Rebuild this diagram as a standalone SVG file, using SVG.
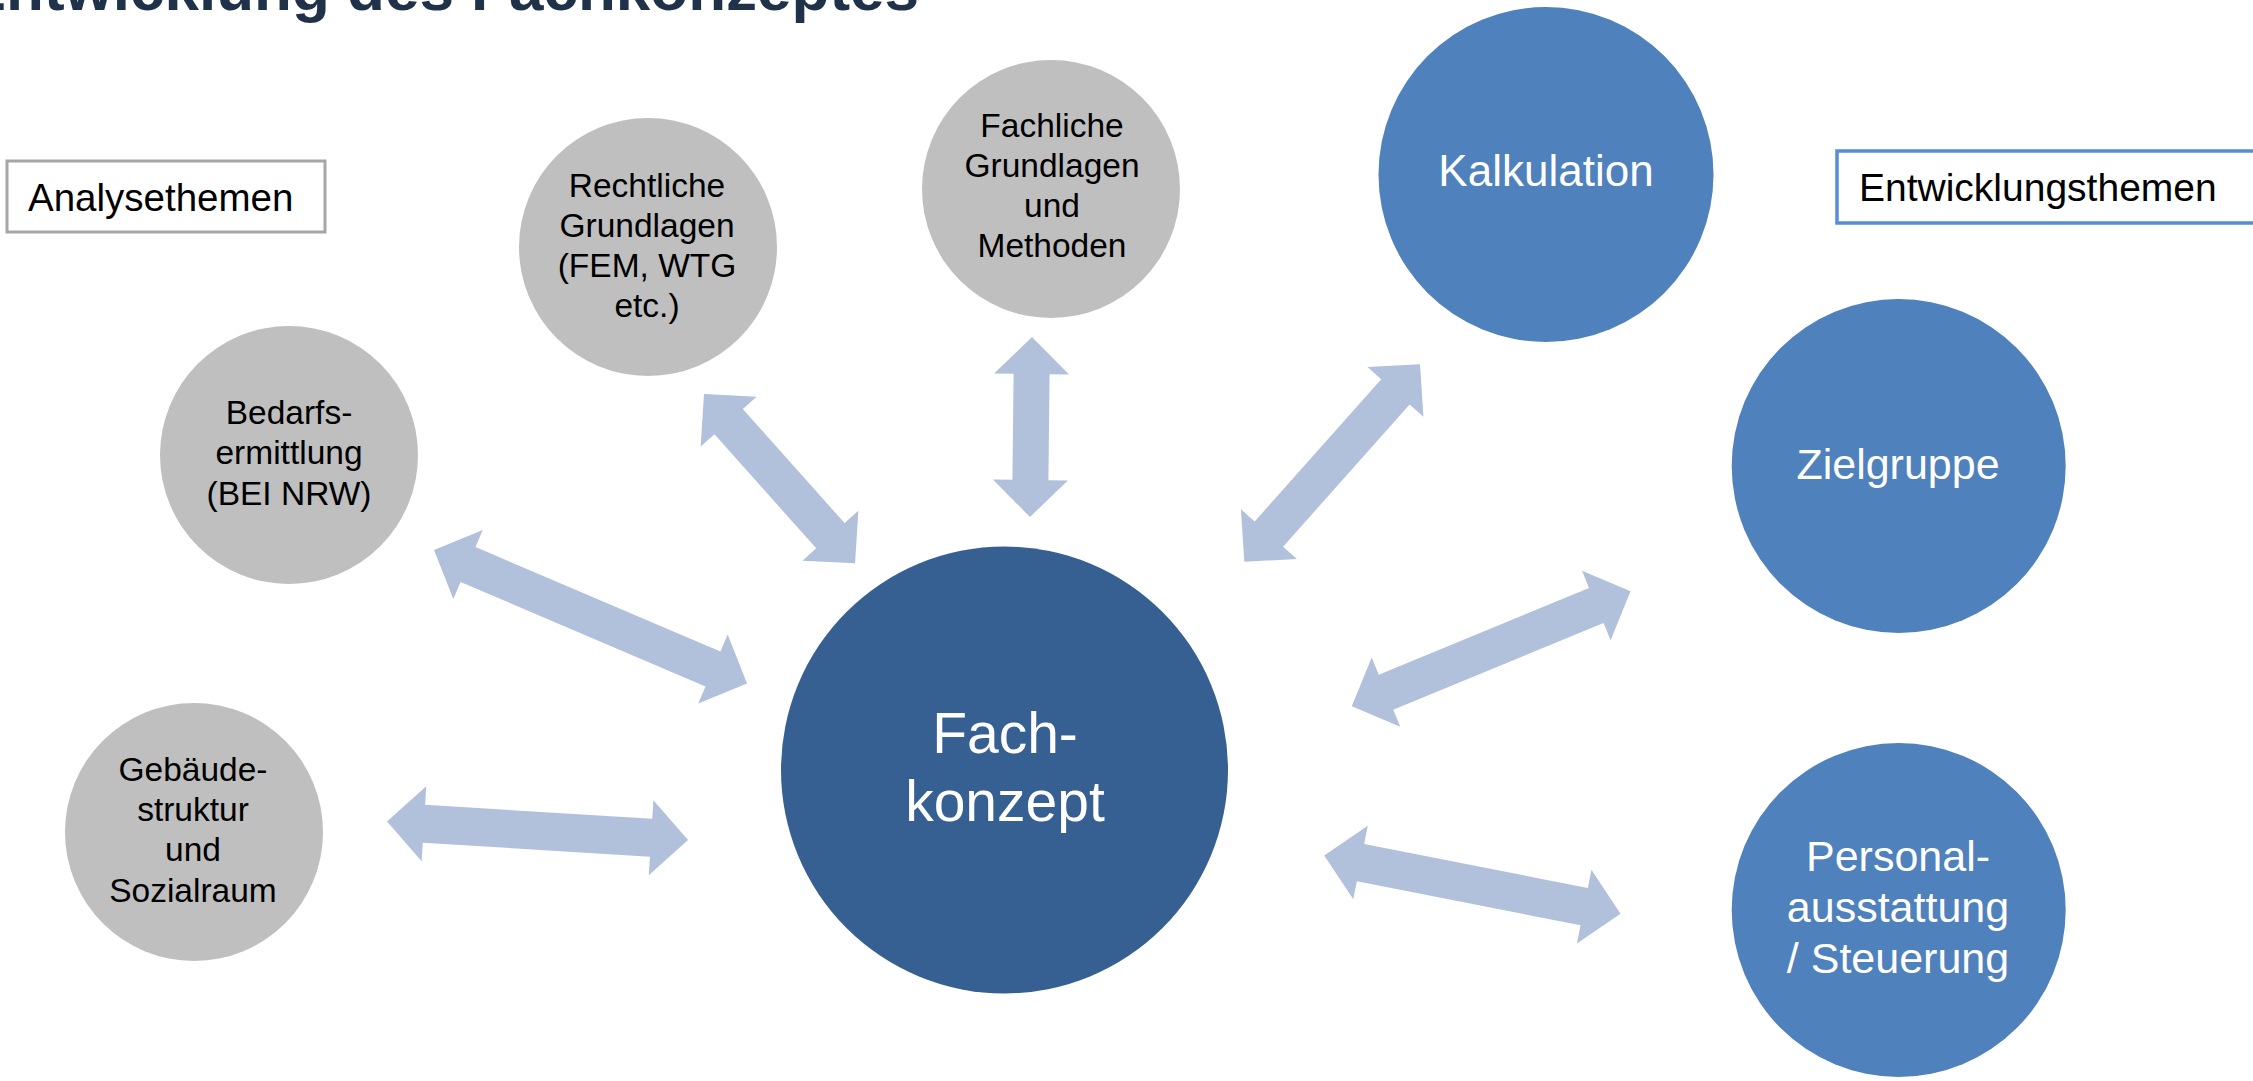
<svg xmlns="http://www.w3.org/2000/svg" width="2253" height="1081" viewBox="0 0 2253 1081">
<style>
text{font-family:"Liberation Sans",Arial,sans-serif;text-anchor:middle}
.gray{fill:#BFBFBF}
.blue{fill:#4F81BD}
.center{fill:#376092}
.arrow{fill:#B1C1DC}
.gt{font-size:33.5px;fill:#000}
.bt{font-size:43px;fill:#fff}
.label{font-size:39px;fill:#000;text-anchor:start}
</style>
<rect width="2253" height="1081" fill="#fff"/>
<text x="919" y="10" style="font-size:62px;font-weight:bold;fill:#1F3249;text-anchor:end">Entwicklung des Fachkonzeptes</text>

<g id="label-analyse">
<rect x="7" y="161" width="318" height="71" fill="#fff" stroke="#A6A6A6" stroke-width="3"/>
<text class="label" x="28" y="211" style="font-size:38.5px">Analysethemen</text>
</g>
<g id="label-entwicklung">
<rect x="1837" y="151" width="430" height="72" fill="#fff" stroke="#558ED5" stroke-width="3.5"/>
<text class="label" x="1859" y="201">Entwicklungsthemen</text>
</g>

<g id="connectors">
<polygon class="arrow" transform="translate(387,821.5) rotate(3.52)" points="0,0 37,-37.5 37,-19 264.6,-19 264.6,-37.5 301.6,0 264.6,37.5 264.6,19 37,19 37,37.5"/>
<polygon class="arrow" transform="translate(434,550) rotate(23.1)" points="0,0 37,-37.5 37,-19 303.3,-19 303.3,-37.5 340.3,0 303.3,37.5 303.3,19 37,19 37,37.5"/>
<polygon class="arrow" transform="translate(704,394) rotate(48.27)" points="0,0 37,-37.5 37,-19 189.9,-19 189.9,-37.5 226.9,0 189.9,37.5 189.9,19 37,19 37,37.5"/>
<polygon class="arrow" transform="translate(1032,337) rotate(90.64)" points="0,0 37,-37.5 37,-18 143,-18 143,-37.5 180,0 143,37.5 143,18 37,18 37,37.5"/>
<polygon class="arrow" transform="translate(1244.3,561.7) rotate(-48.33)" points="0,0 37,-37.5 37,-19 227.3,-19 227.3,-37.5 264.3,0 227.3,37.5 227.3,19 37,19 37,37.5"/>
<polygon class="arrow" transform="translate(1351.8,706.3) rotate(-22.41)" points="0,0 37,-37.5 37,-19 264.5,-19 264.5,-37.5 301.5,0 264.5,37.5 264.5,19 37,19 37,37.5"/>
<polygon class="arrow" transform="translate(1324.2,855.4) rotate(11.15)" points="0,0 37,-37.5 37,-19 265,-19 265,-37.5 302,0 265,37.5 265,19 37,19 37,37.5"/>
</g>

<g id="node-fachkonzept">
<circle class="center" cx="1004.5" cy="770" r="223.5"/>
<text x="1005" y="753" style="font-size:57px;fill:#fff">Fach-</text>
<text x="1005" y="821" style="font-size:57px;fill:#fff">konzept</text>
</g>

<g id="node-rechtliche">
<circle class="gray" cx="648" cy="247" r="129"/>
<text class="gt" x="647" y="197">Rechtliche</text>
<text class="gt" x="647" y="237">Grundlagen</text>
<text class="gt" x="647" y="277">(FEM, WTG</text>
<text class="gt" x="647" y="317">etc.)</text>
</g>

<g id="node-fachliche">
<circle class="gray" cx="1051" cy="189" r="129"/>
<text class="gt" x="1052" y="137">Fachliche</text>
<text class="gt" x="1052" y="177">Grundlagen</text>
<text class="gt" x="1052" y="217">und</text>
<text class="gt" x="1052" y="257">Methoden</text>
</g>

<g id="node-bedarf">
<circle class="gray" cx="289" cy="455" r="129"/>
<text class="gt" x="289" y="424">Bedarfs-</text>
<text class="gt" x="289" y="464">ermittlung</text>
<text class="gt" x="289" y="505">(BEI NRW)</text>
</g>

<g id="node-gebaeude">
<circle class="gray" cx="194" cy="832" r="129"/>
<text class="gt" x="193" y="781">Gebäude-</text>
<text class="gt" x="193" y="821">struktur</text>
<text class="gt" x="193" y="861">und</text>
<text class="gt" x="193" y="902">Sozialraum</text>
</g>

<g id="node-kalkulation">
<circle class="blue" cx="1546" cy="174.5" r="167.5"/>
<text class="bt" x="1546" y="186" style="font-size:44px">Kalkulation</text>
</g>

<g id="node-zielgruppe">
<circle class="blue" cx="1898.7" cy="466" r="167"/>
<text class="bt" x="1898" y="479">Zielgruppe</text>
</g>

<g id="node-personal">
<circle class="blue" cx="1898.7" cy="910" r="167"/>
<text class="bt" x="1898" y="871">Personal-</text>
<text class="bt" x="1898" y="922">ausstattung</text>
<text class="bt" x="1898" y="973">/ Steuerung</text>
</g>
</svg>
